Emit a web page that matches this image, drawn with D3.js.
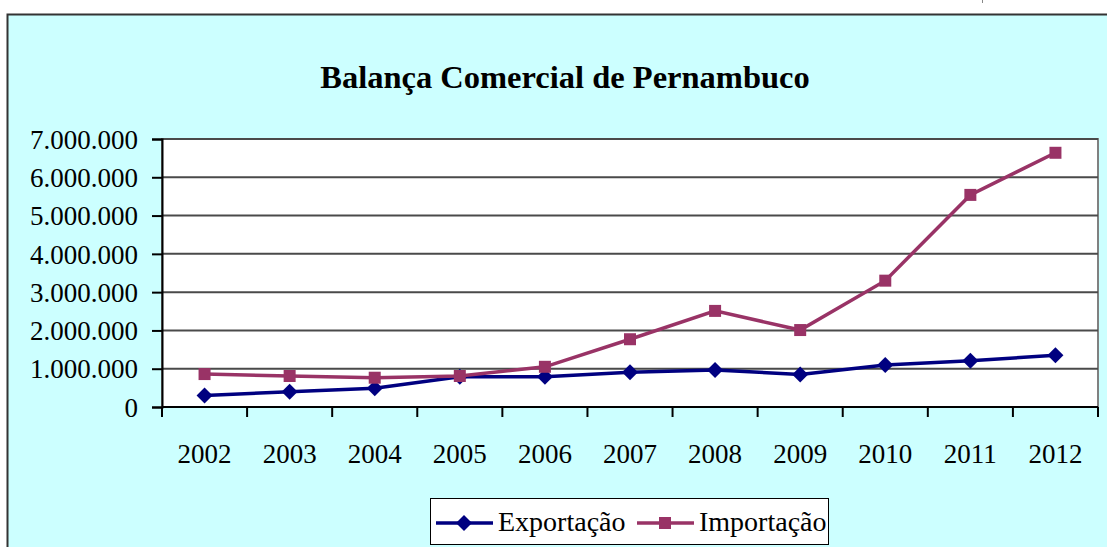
<!DOCTYPE html>
<html>
<head>
<meta charset="utf-8">
<script src="https://cdn.jsdelivr.net/npm/d3@7"></script>
<style>
  body { margin: 0; background: #fff; }
  text { font-family: "Liberation Serif", "Times New Roman", serif; }
</style>
</head>
<body>
<div id="chart"></div>
<script>
// Data
const years = ["2002", "2003", "2004", "2005", "2006", "2007", "2008", "2009", "2010", "2011", "2012"];
const exportacao = [300000, 400000, 490000, 790000, 790000, 905000, 965000, 850000, 1100000, 1210000, 1350000];
const importacao = [860000, 810000, 765000, 810000, 1050000, 1770000, 2510000, 2010000, 3300000, 5540000, 6640000];
const yTicks = [0, 1000000, 2000000, 3000000, 4000000, 5000000, 6000000, 7000000];

const W = 1107, H = 547;
const plot = { left: 162, top: 139, right: 1098, bottom: 407 };

const svg = d3.select("#chart")
    .append("svg")
    .attr("width", W)
    .attr("height", H);

// chart area background
svg.append("rect")
    .attr("x", 7.5).attr("y", 14.5)
    .attr("width", W + 10).attr("height", H)
    .attr("fill", "#CCFFFF")
    .attr("stroke", "#333")
    .attr("stroke-width", 2);

// small mark at the top right
svg.append("line")
    .attr("x1", 982.5).attr("x2", 982.5)
    .attr("y1", 0).attr("y2", 3)
    .attr("stroke", "#888");

// Title
svg.append("text")
    .attr("x", 565)
    .attr("y", 88)
    .attr("text-anchor", "middle")
    .attr("font-size", "32.5px")
    .attr("font-weight", "bold")
    .text("Balança Comercial de Pernambuco");

// Scales
const x = d3.scaleBand()
    .domain(years)
    .range([plot.left, plot.right]);

const y = d3.scaleLinear()
    .domain([0, 7000000])
    .range([plot.bottom, plot.top]);

// plot area
svg.append("rect")
    .attr("x", plot.left).attr("y", plot.top)
    .attr("width", plot.right - plot.left)
    .attr("height", plot.bottom - plot.top)
    .attr("fill", "#fff")
    .attr("stroke", "#808080")
    .attr("stroke-width", 2);

// gridlines
svg.append("g")
    .selectAll("line")
    .data(yTicks.slice(1))
    .enter()
    .append("line")
    .attr("x1", plot.left).attr("x2", plot.right)
    .attr("y1", d => y(d)).attr("y2", d => y(d))
    .attr("stroke", "#4a4a4a")
    .attr("stroke-width", 2);

const fmt = d => d3.format(",")(d).replace(/,/g, ".");

// Y axis
const yAxis = svg.append("g")
    .attr("transform", `translate(${plot.left},0)`)
    .call(d3.axisLeft(y).tickValues(yTicks).tickFormat(fmt).tickSize(10).tickPadding(14));
yAxis.attr("font-family", null);
yAxis.select(".domain").attr("stroke", "#000").attr("stroke-width", 2);
yAxis.selectAll(".tick line").attr("stroke", "#000").attr("stroke-width", 2);
yAxis.selectAll("text")
    .attr("font-size", "27px")
    .attr("fill", "#000")
    .attr("dy", "0.34em");

// X axis: ticks at band edges
const xAxis = svg.append("g")
    .attr("transform", `translate(0,${plot.bottom})`);
xAxis.append("line")
    .attr("x1", plot.left).attr("x2", plot.right)
    .attr("stroke", "#000").attr("stroke-width", 2);
const edges = years.map(d => x(d)).concat([plot.right]);
xAxis.selectAll("line.tk")
    .data(edges)
    .enter()
    .append("line")
    .attr("class", "tk")
    .attr("x1", d => d).attr("x2", d => d)
    .attr("y1", 0).attr("y2", 10)
    .attr("stroke", "#000").attr("stroke-width", 2);
xAxis.selectAll("text")
    .data(years)
    .enter()
    .append("text")
    .attr("x", d => x(d) + x.bandwidth() / 2)
    .attr("y", 56)
    .attr("text-anchor", "middle")
    .attr("font-size", "27px")
    .text(d => d);

// markers
const diamond = "M0,-8L8,0L0,8L-8,0Z";
const square = "M-6,-6H6V6H-6Z";

const series = [
    { name: "Exportação", values: exportacao, color: "#000080", shape: diamond },
    { name: "Importação", values: importacao, color: "#993366", shape: square }
];

const line = d3.line()
    .x((d, i) => x(years[i]) + x.bandwidth() / 2)
    .y(d => y(d));

series.forEach(s => {
    svg.append("path")
        .datum(s.values)
        .attr("fill", "none")
        .attr("stroke", s.color)
        .attr("stroke-width", 3.5)
        .attr("d", line);

    svg.append("g")
        .selectAll("path")
        .data(s.values)
        .enter()
        .append("path")
        .attr("transform", (d, i) => `translate(${x(years[i]) + x.bandwidth() / 2},${y(d)})`)
        .attr("d", s.shape)
        .attr("fill", s.color);
});

// Legend
const legend = svg.append("g");
legend.append("rect")
    .attr("x", 430.5).attr("y", 498.5)
    .attr("width", 398).attr("height", 46)
    .attr("fill", "#fff")
    .attr("stroke", "#000")
    .attr("stroke-width", 1);

const legendX = [436, 637];
series.forEach((s, i) => {
    const g = legend.append("g").attr("transform", `translate(${legendX[i]},523)`);
    g.append("line")
        .attr("x1", 0).attr("x2", 57)
        .attr("stroke", s.color).attr("stroke-width", 3.5);
    g.append("path")
        .attr("transform", "translate(28,0)")
        .attr("d", s.shape)
        .attr("fill", s.color);
    g.append("text")
        .attr("x", 62)
        .attr("y", 8)
        .attr("font-size", "28px")
        .text(s.name);
});
</script>
</body>
</html>
